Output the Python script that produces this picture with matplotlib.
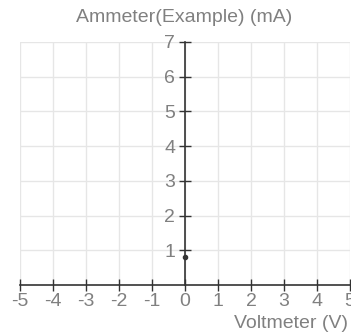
import matplotlib.pyplot as plt

x_ticks = [-5, -4, -3, -2, -1, 0, 1, 2, 3, 4, 5]
y_ticks = [1, 2, 3, 4, 5, 6, 7]
volts = [0]
amps = [0.8]

plt.rcParams['font.family'] = ['Liberation Sans', 'DejaVu Sans']

fig = plt.figure(figsize=(3.51, 3.34), dpi=100)
ax = fig.add_axes([20 / 351, 1 - 285 / 334, 330 / 351, 243 / 334])
ax.set_xlim(-5, 5)
ax.set_ylim(0, 7)

# grid
ax.set_xticks(x_ticks)
ax.set_yticks(y_ticks)
ax.grid(True, color='#e6e6e6', linewidth=1)
ax.set_axisbelow(True)

# spines through the origin
for s in ['top', 'right']:
    ax.spines[s].set_visible(False)
ax.spines['left'].set_position(('data', 0))
ax.spines['bottom'].set_position(('data', 0))
ax.spines['left'].set_color('#333333')
ax.spines['bottom'].set_color('#333333')
ax.spines['left'].set_linewidth(1.2)
ax.spines['bottom'].set_linewidth(1.2)
ax.tick_params(direction='inout', length=8, width=1, color='#333333',
               labelcolor='#808080', labelsize=14)
ax.tick_params(axis='x', pad=2)
ax.tick_params(axis='y', pad=3)
ax.set_xticklabels([str(v) for v in x_ticks])
ax.set_yticklabels([str(v) for v in y_ticks])

ax.plot(volts, amps, 'o', color='#333333', markersize=3, clip_on=False)

fig.text(184 / 351, 1 - 18 / 334, 'Ammeter(Example) (mA)', ha='center', va='center',
         color='#808080', fontsize=14)
fig.text(348 / 351, 1 - 323 / 334, 'Voltmeter (V)', ha='right', va='center',
         color='#808080', fontsize=14)

fig.savefig('out.png', dpi=100)
